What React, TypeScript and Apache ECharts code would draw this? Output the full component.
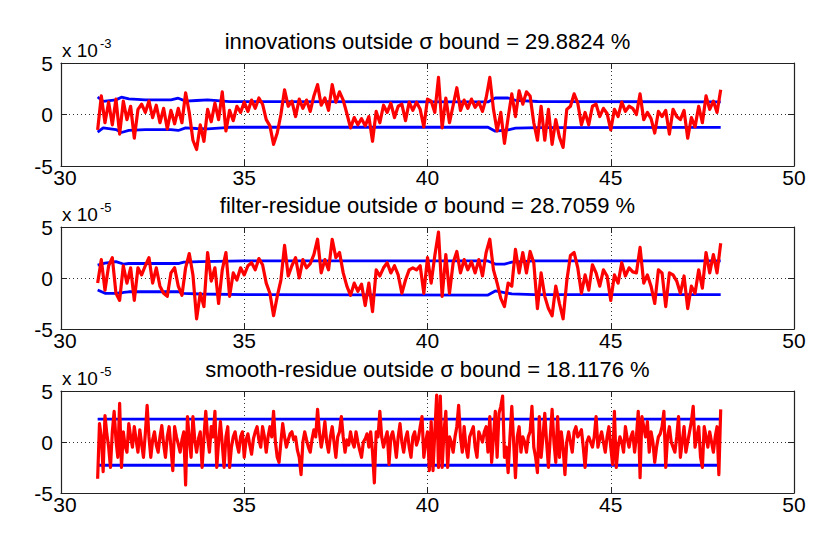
import React, { useEffect, useRef } from "react";
import * as echarts from "echarts";

// ---------- data ----------
const X_START = 31.0;
const STEP_AB = 0.1;
const STEP_C = 0.05;

const X_TICKS = [30, 35, 40, 45, 50];
const Y_TICKS = [-5, 0, 5];

const TITLES = [
  "innovations outside σ bound = 29.8824 %",
  "filter-residue outside σ bound = 28.7059 %",
  "smooth-residue outside σ bound = 18.1176 %",
];
const EXPONENTS = ["-3", "-5", "-5"];

// innovations (x 10^-3), x = 31.0 .. 48.0 step 0.1
const innovations = [
  -1.5, 1.8, -0.8, 1.2, -1.0, 1.5, -1.9, 1.3, -0.5, 0.8,
  -2.3, 0.5, 1.0, 0.2, 1.3, -0.3, 0.9, -0.8, 0.6, -1.4,
  0.4, -0.9, 0.6, -0.8, 2.1, 0.2, -2.5, -3.4, -1.0, -2.6,
  0.5, -0.7, 1.1, -0.5, 2.2, -1.6, 0.4, -0.6, 0.8, 0.2,
  1.2, 0.3, 1.4, 0.6, 1.6, 1.0, -0.5, -1.1, -2.9, -1.8,
  0.0, 2.4, 0.8, 1.3, -0.2, 1.5, 0.6, 1.4, 0.3, 1.8,
  2.9, 0.9, 1.6, 0.4, 2.9, 1.2, 2.2, 1.4, 0.1, -1.3,
  -0.3, -1.0, -0.4, -1.1, -0.2, -2.6, 0.3, -0.8, 0.9, 0.2,
  1.1, -0.3, 0.8, 1.0, -0.6, 1.2, 0.4, 1.2, 0.5, -1.2,
  1.5, 1.3, 0.2, 3.6, -1.3, 1.6, -0.8, 0.9, 2.6, 0.4,
  1.4, 0.6, 1.5, 0.7, 1.2, 0.3, 1.6, 3.6, 0.5, -1.6,
  0.2, -2.8, -0.3, 2.0, -0.2, 2.3, 1.0, 2.2, 1.8, -0.8,
  -2.5, 0.8, -2.5, 0.5, -2.9, -0.5, -2.2, -3.2, 0.5, 0.8,
  2.0, 1.1, -1.0, 0.2, -1.0, 0.8, 1.0, -0.2, 0.6, 0.1,
  -1.5, 0.5, -0.2, 1.2, 0.3, 0.8, 0.6, 0.0, 2.0, -0.5,
  0.2, -0.4, -1.8, 0.3, -0.2, 0.4, -1.9, 0.5, -0.2, -0.5,
  0.4, -2.3, -0.3, -1.2, 0.8, -0.8, 1.8, 0.5, 1.3, 0.2,
  2.4,
];

// filter residue (x 10^-5), x = 31.0 .. 48.0 step 0.1
const filterResidue = [
  -0.5, 1.8, -1.2, 1.2, 2.0, -1.5, -2.2, 1.2, -0.5, 1.0,
  -2.2, 1.0, 0.3, 1.2, 2.0, -0.5, 1.0, -0.8, -1.5, -1.8,
  0.5, 1.0, -0.8, -1.7, 1.0, 2.4, 0.3, -4.0, -1.5, -2.8,
  2.5, -0.3, 1.0, -2.5, 0.8, 2.5, -1.8, 0.5, -0.2, 1.0,
  0.3, 1.2, 1.5, 0.8, 1.9, 1.3, -0.5, -1.5, -3.7, -1.8,
  -0.2, 3.2, 0.2, 1.2, 2.0, 0.0, 1.8, 1.0, 1.4, 2.3,
  3.8, 0.5, 1.8, 0.8, 3.8, 2.0, 2.5, 0.5, -0.8, -1.7,
  -0.5, -1.3, -0.6, -2.7, -0.5, -3.3, 0.8, 0.2, 1.0, 1.5,
  0.5, 1.2, 0.3, -1.5, -0.2, 0.8, 1.0, 0.8, 1.2, -1.5,
  2.0, -0.5, 2.2, 4.5, -1.8, 2.3, -1.5, 1.5, 2.6, 0.5,
  1.8, 0.8, 1.6, 0.5, 1.8, 0.2, 2.5, 3.8, 0.8, -0.5,
  -2.0, -2.8, -0.5, -0.8, 2.8, 0.5, 2.5, 0.5, 2.6, 1.5,
  -3.0, 0.5, -1.8, -3.0, -3.7, -0.8, -2.5, -4.0, -0.3, 2.2,
  2.5, 1.0, -1.5, 0.3, -1.2, 1.3, 0.5, -0.8, 0.8, 0.2,
  -2.2, 0.3, -0.5, 1.5, 0.2, 1.0, 0.6, 0.5, 3.0, -0.5,
  0.3, -0.8, -2.5, 0.8, 0.5, -2.8, 0.5, 0.3, -0.3, -1.5,
  0.2, -3.0, -0.8, -1.5, 0.8, -1.0, 2.5, 0.5, 2.3, 0.5,
  3.4,
];

// smooth residue (x 10^-5), x = 31.00 .. 48.00 step 0.05
const smoothResidue = [
  -3.6, 1.8, 0.5, -2.9, 2.6, 0.8, -0.5, -2.5, 1.0, 3.0,
  0.2, -1.5, 3.8, -2.5, 1.0, -0.4, -1.0, 1.8, 0.5, -0.5,
  1.5, 0.2, -1.0, 1.2, -0.2, -1.5, 0.8, 3.6, 0.5, -1.5,
  0.2, 1.0, -0.3, -1.0, 0.5, 1.6, -0.2, -1.5, 0.5, 1.5,
  -0.5, -2.8, 1.5, 0.5, -0.2, -1.0, 0.2, 1.0, -4.2, 2.5,
  0.3, -1.5, 2.5, 0.2, -1.0, 0.3, 1.0, -2.5, 0.5, 3.0,
  0.5, -1.0, 1.5, 0.5, 3.0, -2.5, 0.0, 2.0, -0.2, -2.5,
  0.5, 1.5, -2.5, -0.5, 0.5, 1.0, -0.2, -1.0, 0.5, 1.0,
  -1.5, 0.2, 0.8, -0.3, -1.2, 0.3, 1.0, 1.5, 0.2, -0.5,
  1.5, 0.5, -1.0, 0.5, 1.5, 0.5, 3.0, 0.0, -1.5, -2.0,
  0.0, 1.8, 0.5, -0.5, 0.2, 0.8, 1.0, 0.2, 0.5, -0.8,
  -1.5, -3.2, 0.0, 1.0, 0.2, -0.5, -1.0, 0.3, 1.2, 0.5,
  3.2, 1.0, -0.5, 0.5, 2.0, 0.0, -1.0, 0.5, 1.5, 0.0,
  -1.5, 0.5, 1.0, 2.5, 0.5, -1.0, 0.2, -0.3, 1.0, 0.0,
  -0.5, 1.0, 0.0, -0.8, -1.5, 0.0, 0.3, 0.8, -0.5, 1.0,
  -1.0, -4.0, 1.0, 0.5, 3.0, 0.5, -0.5, 0.3, 1.0, -2.2,
  0.5, 1.0, 0.0, -1.5, 0.5, 1.8, 0.0, -1.0, 0.3, 1.0,
  -0.5, -1.5, 0.5, 1.0,
  -0.3, 0.3, 1.5, 2.5, -1.5, 0.0, 1.0, -2.8, 2.0, -2.8,
  1.0, 4.6, -2.5, 4.5, -2.5, 1.0, 3.0, -2.5, 0.5, 0.0,
  -1.0, 0.5, 1.5, 3.6, 0.5, -1.0, 1.5, -0.5, -1.5, 0.5,
  1.0, 1.5, -0.5, -1.5, 1.0, 0.5, 0.0, 1.0, 1.5, -1.0,
  2.5, -2.0, 0.5, 3.0, -1.5, 2.8, 3.5, 4.5, -1.5, -0.5,
  -3.0, 0.5, 3.5, 0.0, -3.5, 0.5, 1.5, -1.0, 0.5, 0.0,
  -1.0, 0.5, 1.0, 3.5, -0.5, -1.5, -3.0, 2.5, -1.5, 0.5,
  2.8, 0.0, -2.5, 0.5, 3.2, 0.0, -2.0, 2.5, -1.5, 1.0,
  -0.5, -3.2, 0.0, 1.0, 0.0, -1.0, 1.0, 1.5, 0.5, 0.8,
  1.2, -0.5, -2.5, 0.0, 0.5, 0.0, -0.5, 0.5, 2.5, -0.5,
  0.3, 1.0, 0.0, -1.0, 0.5, 1.5, -0.5, -2.2, 3.0, -2.5,
  -0.5, 0.5, 0.0, -1.0, 1.5, 0.3, -0.5, 0.5, 1.0, -1.0,
  0.5, 3.0, -3.5, 2.5, 1.5, 0.5, 2.0, -1.0, 1.0, 0.0,
  -2.0, -0.5, 0.5, 0.8, 1.5, 3.0, -2.5, 0.5, 1.5, 0.0,
  -0.5, -1.0, 0.5, 2.5, -1.5, 0.0, 1.5, -1.0, 0.0, 1.0,
  2.0, 3.5, -0.5, 0.5, 1.5, -1.5, -2.5, 1.5, 0.5, -0.5,
  1.0, 0.0, -1.0, 0.5, 1.5, -3.2, 3.2,
];

// sigma bounds
const innovBoundX = [31.0, 31.15, 31.5, 31.65, 31.85, 32.3, 33.0, 33.2, 33.4, 33.7, 34.0, 34.6, 41.65, 41.85, 42.2, 42.4, 43.0, 48.0];
const innovUpper = [1.7, 1.27, 1.42, 1.68, 1.52, 1.42, 1.42, 1.58, 1.3, 1.36, 1.42, 1.25, 1.22, 1.6, 1.6, 1.38, 1.26, 1.22];
const innovLower = [-1.72, -1.3, -1.46, -1.75, -1.55, -1.46, -1.46, -1.55, -1.3, -1.36, -1.4, -1.24, -1.23, -1.62, -1.5, -1.33, -1.27, -1.25];

const filterBoundX = [31.0, 31.2, 31.5, 31.7, 31.85, 33.2, 33.35, 33.8, 35.0, 41.65, 41.85, 42.1, 42.3, 42.9, 48.0];
const filterUpper = [1.27, 1.45, 1.6, 1.37, 1.42, 1.42, 1.55, 1.6, 1.67, 1.67, 1.37, 1.37, 1.55, 1.67, 1.67];
const filterLower = [-1.18, -1.5, -1.5, -1.42, -1.35, -1.35, -1.5, -1.57, -1.63, -1.67, -1.27, -1.44, -1.55, -1.63, -1.63];

const smoothBoundX = [31.0, 47.98];
const smoothUpper = [2.25, 2.25];
const smoothLower = [-2.28, -2.28];

// ---------- layout ----------
const GRIDS = [
  { left: 61, top: 63, width: 733, height: 103 },
  { left: 61, top: 227, width: 733, height: 102 },
  { left: 61, top: 391, width: 733, height: 102 },
];
const FONT = "'Liberation Sans', Arial, Helvetica, sans-serif";

function toPairs(xs: number[], ys: number[]) {
  return ys.map((y, i) => [xs[i], y]);
}
function sampled(values: number[], step: number) {
  return values.map((v, i) => [Math.round((X_START + i * step) * 1000) / 1000, v]);
}

export default function App() {
  const ref = useRef<HTMLDivElement>(null);

  useEffect(() => {
    document.body.style.margin = "0";
    if (!ref.current) return;
    const chart = echarts.init(ref.current, null, { renderer: "svg" });

    const reds = [
      sampled(innovations, STEP_AB),
      sampled(filterResidue, STEP_AB),
      sampled(smoothResidue, STEP_C),
    ];
    const bounds = [
      [toPairs(innovBoundX, innovUpper), toPairs(innovBoundX, innovLower)],
      [toPairs(filterBoundX, filterUpper), toPairs(filterBoundX, filterLower)],
      [toPairs(smoothBoundX, smoothUpper), toPairs(smoothBoundX, smoothLower)],
    ];

    const xAxes: any[] = [];
    const yAxes: any[] = [];
    const series: any[] = [];
    const graphics: any[] = [];
    const dotted = { type: [1, 3], color: "#333", width: 1 };
    const axisLine = { show: true, onZero: false, lineStyle: { color: "#222", width: 1.2 } };
    const tick = { show: true, inside: true, length: 6, lineStyle: { color: "#222", width: 1 } };

    GRIDS.forEach((g, gi) => {
      xAxes.push({
        type: "value", gridIndex: gi, min: X_TICKS[0], max: X_TICKS[X_TICKS.length - 1], interval: 5,
        position: "bottom", axisLine, axisTick: tick,
        axisLabel: {
          color: "#000", fontSize: 21, fontFamily: FONT, margin: 1,
          formatter: (v: number) => (v === X_TICKS[0] ? `{first|${v}}` : `${v}`),
          rich: { first: { fontSize: 21, fontFamily: FONT, color: "#000", padding: [0, 0, 0, 8] } },
        },
        splitLine: { show: true, lineStyle: dotted },
      });
      xAxes.push({
        type: "value", gridIndex: gi, min: X_TICKS[0], max: X_TICKS[X_TICKS.length - 1], interval: 5,
        position: "top", axisLine, axisTick: tick, axisLabel: { show: false }, splitLine: { show: false },
      });
      yAxes.push({
        type: "value", gridIndex: gi, min: Y_TICKS[0], max: Y_TICKS[Y_TICKS.length - 1], interval: 5,
        position: "left", axisLine, axisTick: tick,
        axisLabel: { color: "#000", fontSize: 21, fontFamily: FONT, margin: 8 },
        splitLine: { show: true, lineStyle: dotted },
      });
      yAxes.push({
        type: "value", gridIndex: gi, min: Y_TICKS[0], max: Y_TICKS[Y_TICKS.length - 1], interval: 5,
        position: "right", axisLine, axisTick: tick, axisLabel: { show: false }, splitLine: { show: false },
      });

      bounds[gi].forEach((b, bi) => {
        series.push({
          type: "line", name: `bound${gi}${bi}`, xAxisIndex: gi * 2, yAxisIndex: gi * 2,
          data: b, showSymbol: false, symbol: "none", z: 2,
          lineStyle: { color: "#0000ff", width: 2.8 },
        });
      });
      series.push({
        type: "line", name: `resid${gi}`, xAxisIndex: gi * 2, yAxisIndex: gi * 2,
        data: reds[gi], showSymbol: false, symbol: "none", z: 3,
        lineStyle: { color: "#ff0000", width: 3.2, join: "round" },
      });

      const dy = g.top - GRIDS[0].top;
      graphics.push({
        type: "text", x: g.left + g.width / 2, y: 41.6 + dy,
        style: { text: TITLES[gi], fontSize: 22, fontFamily: FONT, fill: "#000", align: "center", verticalAlign: "middle" },
      });
      graphics.push({
        type: "text", x: 62, y: 50 + dy,
        style: { text: "x 10", fontSize: 19, fontFamily: FONT, fill: "#000", align: "left", verticalAlign: "middle" },
      });
      graphics.push({
        type: "text", x: 100, y: 43.5 + dy,
        style: { text: EXPONENTS[gi], fontSize: 13, fontFamily: FONT, fill: "#000", align: "left", verticalAlign: "middle" },
      });
    });

    chart.setOption({
      animation: false,
      backgroundColor: "#fff",
      grid: GRIDS.map((g) => ({ ...g, containLabel: false })),
      xAxis: xAxes,
      yAxis: yAxes,
      series,
      graphic: graphics,
    });

    return () => chart.dispose();
  }, []);

  return <div ref={ref} style={{ width: 830, height: 553 }} />;
}
